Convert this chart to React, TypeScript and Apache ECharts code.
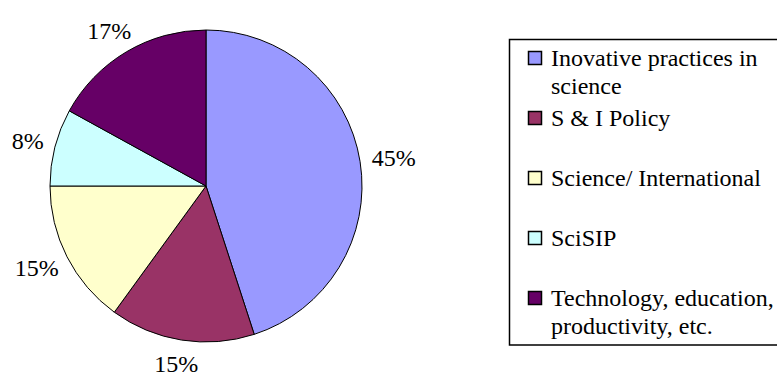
import React, { useEffect, useRef } from "react";
import * as echarts from "echarts";

const categories = [
  "Inovative practices in\nscience",
  "S & I Policy",
  "Science/ International",
  "SciSIP",
  "Technology, education,\nproductivity, etc.",
];
const values = [45, 15, 15, 8, 17];
const colors = ["#9999FF", "#993366", "#FFFFCC", "#CCFFFF", "#660066"];

const FONT = "Liberation Serif";
const CX = 206;
const CY = 186;
const R = 156;
const GAP = 12;

export default function App() {
  const ref = useRef<HTMLDivElement>(null);
  useEffect(() => {
    document.body.style.margin = "0";
    if (!ref.current) return;
    const chart = echarts.init(ref.current, undefined, { renderer: "svg" });
    const total = values.reduce((s, v) => s + v, 0);
    const mids: number[] = [];
    let acc = 0;
    values.forEach((v) => {
      mids.push(((acc + v / 2) / total) * Math.PI * 2);
      acc += v;
    });

    const legendRowTop = 58;
    const legendRowStep = 60;
    const legendItems: any[] = [];
    categories.forEach((name, i) => {
      const y = legendRowTop + i * legendRowStep;
      legendItems.push({
        type: "rect",
        shape: { x: 528.5, y: y - 6.5, width: 13, height: 13 },
        style: { fill: colors[i], stroke: "#000", lineWidth: 1.5 },
      });
      legendItems.push({
        type: "text",
        x: 551,
        y: y - 14,
        style: {
          text: name,
          fill: "#000",
          fontFamily: FONT,
          fontSize: 24,
          lineHeight: 28,
          verticalAlign: "top",
        },
      });
    });

    chart.setOption({
      animation: false,
      backgroundColor: "#fff",
      graphic: [
        {
          type: "rect",
          shape: { x: 509.5, y: 39.5, width: 300, height: 305.5 },
          style: { fill: "#fff", stroke: "#000", lineWidth: 1.5 },
          z: 0,
        },
        ...legendItems.map((e) => ({ ...e, z: 1 })),
      ],
      series: [
        {
          type: "pie",
          center: [CX, CY],
          radius: R,
          startAngle: 90,
          clockwise: true,
          percentPrecision: 0,
          avoidLabelOverlap: false,
          data: categories.map((name, i) => ({
            name,
            value: values[i],
            itemStyle: { color: colors[i] },
          })),
          itemStyle: { borderColor: "#000", borderWidth: 1 },
          emphasis: { disabled: true },
          label: {
            show: true,
            position: "outside",
            formatter: "{d}%",
            color: "#000",
            fontFamily: FONT,
            fontSize: 24,
            overflow: "none",
            bleedMargin: 0,
          },
          labelLine: { show: false, length: 5, length2: 0 },
          labelLayout: (p: any) => {
            const a = mids[p.dataIndex];
            const sx = Math.sin(a);
            const sy = -Math.cos(a);
            const w = p.labelRect.width;
            const h = p.labelRect.height;
            const px = CX + (R + GAP) * sx;
            const py = CY + (R + GAP) * sy;
            return {
              x: px + (w / 2) * sx,
              y: py + (h / 2) * sy,
              align: "center",
              verticalAlign: "middle",
            };
          },
        },
      ],
    });
    return () => chart.dispose();
  }, []);
  return <div ref={ref} style={{ width: 777, height: 377 }} />;
}
